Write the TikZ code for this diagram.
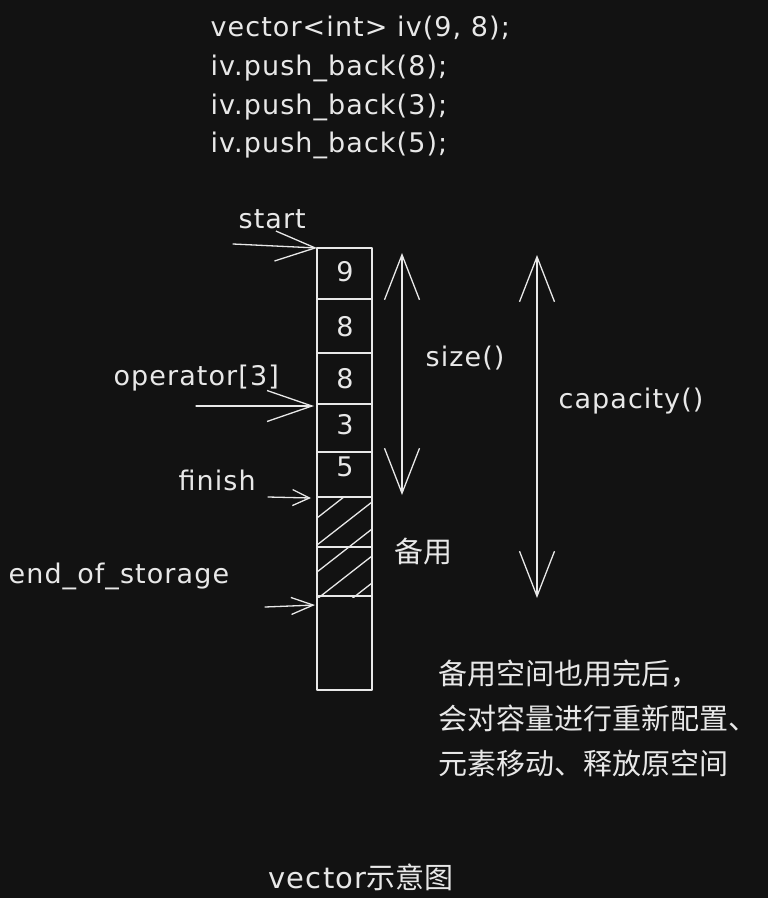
\documentclass[tikz,border=0pt]{standalone}
\usepackage{fontspec}
\setmainfont{DejaVu Sans}
\newfontfamily\handfont[LetterSpace=4]{DejaVu Sans}
\newfontfamily\cjk{Noto Sans CJK SC}
\usetikzlibrary{arrows.meta}
\definecolor{bg}{HTML}{121212}
\definecolor{ink}{HTML}{E8E8E8}
\begin{document}
\begin{tikzpicture}[x=1pt,y=-1pt,line cap=round,line join=round,line width=1.3pt,color=ink,
  every node/.style={inner sep=0pt},
  hand/.style={font=\fontsize{27}{32}\selectfont\handfont},
  zh/.style={font=\fontsize{29}{45}\selectfont\cjk},
  ptr/.style 2 args={-{Straight Barb[length=#1,width=#2]}},
  span/.style={{Straight Barb[length=45pt,width=35pt]}-{Straight Barb[length=45pt,width=35pt]}}]
  \fill[bg] (0,0) rectangle (768,898);
  \useasboundingbox (0,0) rectangle (768,898);
  \node[hand,anchor=base west] (code1) at (210,36) {vector<int> iv(9,  8);};
  \node[hand,anchor=base west] (code2) at (210,75) {iv.push\_back(8);};
  \node[hand,anchor=base west] (code3) at (210,114) {iv.push\_back(3);};
  \node[hand,anchor=base west] (code4) at (210,152) {iv.push\_back(5);};
  \draw (317,248) rectangle (372,690);
  \foreach \y in {299,353,404,452,497,547,596}
    \draw (317,\y) -- (372,\y);
  \begin{scope}
    \clip (317,497) rectangle (372,597);
    \foreach \k in {518,545,572,599,626}
      \draw (317,\k) -- (372,{\k-43});
  \end{scope}
  \foreach \v/\y [count=\i] in {9/272,8/327,8/379,3/425,5/467}
    \node[hand] (v\i) at (345,\y) {\v};
  \coordinate (l0) at (317,248);
  \coordinate (l3) at (314,406);
  \coordinate (l5) at (311,498);
  \coordinate (l7) at (315,605);
  \coordinate (startTail) at (233,244);
  \coordinate (oprTail) at (196,406);
  \coordinate (finishTail) at (268,497);
  \coordinate (eosTail) at (265,607);
  \coordinate (sizeTop) at (402,253);
  \coordinate (sizeBot) at (402,495);
  \coordinate (capTop) at (537,255);
  \coordinate (capBot) at (537,598);
  \node[hand,anchor=base west] (start) at (238,228) {start};
  \node[hand,anchor=base west] (opr) at (113,385) {operator[3]};
  \node[hand,anchor=base west] (finish) at (178,490) {finish};
  \node[hand,anchor=base west] (eos) at (8,583) {end\_of\_storage};
  \node[hand,anchor=base west] (size) at (425,366) {size()};
  \node[hand,anchor=base west] (cap) at (558,408) {capacity()};
  \draw[ptr={40pt}{30pt}] (startTail) -- (l0);
  \draw[ptr={45pt}{31pt}] (oprTail) -- (l3);
  \draw[ptr={17pt}{16pt}] (finishTail) -- (l5);
  \draw[ptr={22pt}{17pt}] (eosTail) -- (l7);
  \draw[span] (sizeTop) -- (sizeBot);
  \draw[span] (capTop) -- (capBot);
  \node[zh] (spare) at (423,551) {备用};
  \node[zh,align=left,anchor=west] (note) at (438,718) {备用空间也用完后，\\会对容量进行重新配置、\\元素移动、释放原空间};
  \node[anchor=base west,font=\fontsize{29}{32}\selectfont] (title) at (268,888) {{\handfont vector}{\cjk 示意图}};
\end{tikzpicture}
\end{document}
